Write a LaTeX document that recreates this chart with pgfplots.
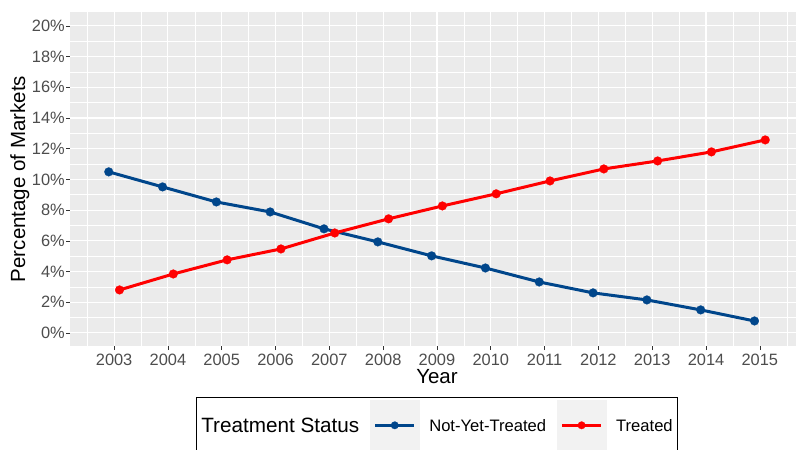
\documentclass[border=0pt]{standalone}
\usepackage{pgfplots}
\pgfplotsset{compat=1.18}
\usepackage{fontspec}
\setmainfont{Liberation Sans}
\definecolor{panelgray}{HTML}{EBEBEB}
\definecolor{keygray}{HTML}{F2F2F2}
\definecolor{ticktext}{HTML}{4D4D4D}
\definecolor{tickline}{HTML}{333333}
\definecolor{nytblue}{HTML}{00468B}
\definecolor{trred}{HTML}{FF0000}
\pgfplotstableread{
x y
2002.9 10.49
2003.9 9.51
2004.9 8.53
2005.9 7.88
2006.9 6.78
2007.9 5.93
2008.9 5.02
2009.9 4.23
2010.9 3.32
2011.9 2.61
2012.9 2.15
2013.9 1.50
2014.9 0.78
}\nyt
\pgfplotstableread{
x y
2003.1 2.80
2004.1 3.84
2005.1 4.76
2006.1 5.47
2007.1 6.51
2008.1 7.43
2009.1 8.27
2010.1 9.06
2011.1 9.90
2012.1 10.68
2013.1 11.20
2014.1 11.79
2015.1 12.57
}\trt
\begin{document}
\begin{tikzpicture}
\begin{axis}[
  scale only axis, width=734pt, height=334pt,
  at={(70pt,104pt)}, anchor=south west,
  xmin=2002.18, xmax=2015.82, ymin=-0.85, ymax=20.9,
  axis background/.style={fill=panelgray},
  axis line style={draw=none},
  grid=both,
  major grid style={white, line width=1.1pt},
  minor grid style={white, line width=0.55pt},
  xtick={2003,2004,...,2015},
  minor xtick={2002.5,2003.5,...,2015.5},
  ytick={0,2,...,20},
  minor ytick={1,3,...,19},
  tick align=outside, tick pos=left,
  major tick length=4pt, minor tick length=0pt,
  tick style={color=tickline, line width=0.55pt},
  /pgf/number format/assume math mode=true,
  /pgf/number format/1000 sep={},
  yticklabel={\pgfmathprintnumber{\tick}\%},
  ticklabel style={text=ticktext, font=\fontsize{16.4}{19}\selectfont},
  xticklabel style={anchor=base, inner sep=0pt, yshift=-15.5pt},
  yticklabel style={anchor=east, inner sep=0pt, xshift=-1pt},
  xlabel={Year}, ylabel={Percentage of Markets},
  label style={font=\fontsize{20.5}{24}\selectfont, inner sep=0pt},
  xlabel style={at={(axis description cs:0.5,-0.1108)}, anchor=base},
  ylabel style={at={(axis description cs:-0.0613,0.5)}, anchor=base, rotate=0},
  legend columns=3,
  legend cell align=left,
  legend style={
    at={(axis description cs:0.5,-0.1527)}, anchor=north,
    draw=black, line width=0.6pt, fill=white,
    inner xsep=5pt, inner ysep=3pt,
    nodes={inner sep=0pt, text depth=0pt},
    font=\fontsize{16.6}{19}\selectfont,
    /tikz/every odd column/.style={column sep=9pt},
    /tikz/every even column/.style={column sep=11pt},
  },
  legend image code/.code={
    \fill[keygray, draw=none] (0pt,-25pt) rectangle (50pt,25pt);
    \draw[mark repeat=2, mark phase=2, #1, line width=3pt, mark size=3.8pt] plot coordinates {(5pt,0pt) (24.5pt,0pt) (44pt,0pt)};
  },
]
\addlegendimage{empty legend}
\addlegendentry{\hspace*{-9pt}\fontsize{20.7}{24}\selectfont Treatment Status}
\addplot[color=nytblue, line width=3pt, mark=*, mark size=4.4pt, mark options={solid, line width=0.2pt}] table[x=x, y=y] {\nyt};
\addlegendentry{Not-Yet-Treated}
\addplot[color=trred, line width=3pt, mark=*, mark size=4.4pt, mark options={solid, line width=0.2pt}] table[x=x, y=y] {\trt};
\addlegendentry{Treated}
\end{axis}
\pgfresetboundingbox
\path[use as bounding box] (0pt,0pt) rectangle (796pt,450pt);
\end{tikzpicture}
\end{document}
